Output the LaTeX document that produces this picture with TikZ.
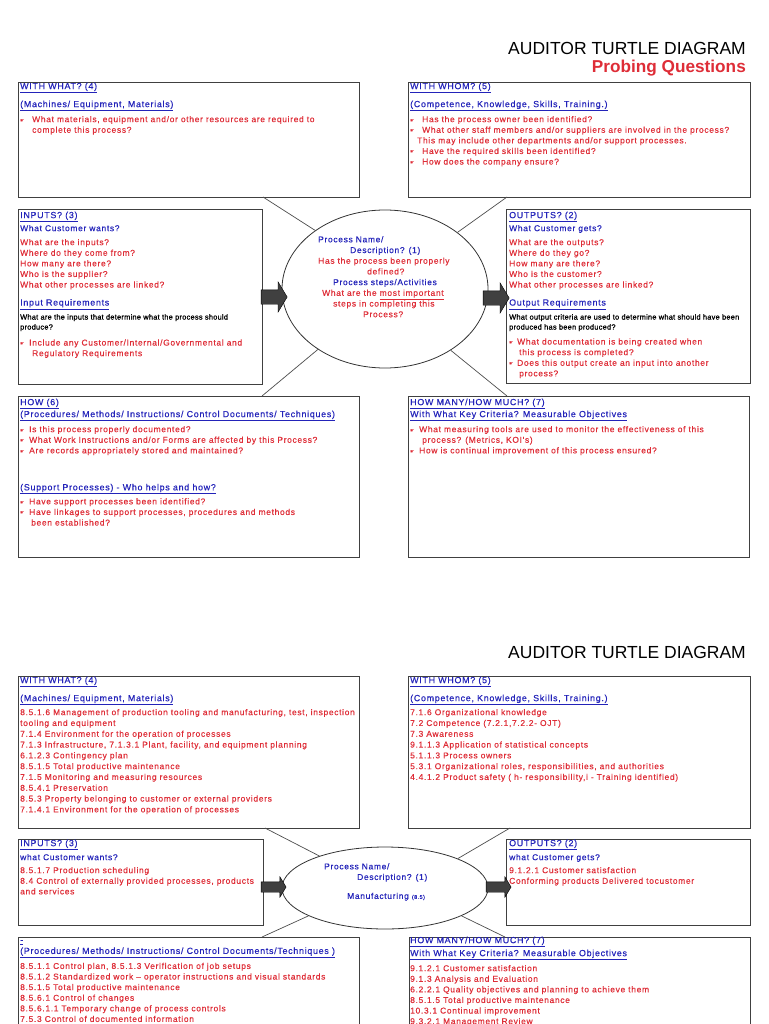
\documentclass[tikz,border=0pt]{standalone}
\usepackage{fontspec}
\setmainfont{Liberation Sans}
\newfontfamily\qfont[LetterSpace=8,FakeBold=0.4]{Liberation Sans}
\newfontfamily\cramp[LetterSpace=3.5,FakeBold=1.2]{Liberation Sans}
\newfontfamily\symfont{DejaVu Sans}
\usetikzlibrary{positioning}
\usetikzlibrary{calc}
\usetikzlibrary{shapes.geometric}
\usetikzlibrary{shapes.arrows}
\definecolor{qblue}{RGB}{35,35,185}
\definecolor{qred}{RGB}{222,45,55}
\newcommand{\hd}[1]{\textcolor{qblue}{\fontsize{8.9}{10.6}\selectfont\underline{#1}}}
\newcommand{\bl}[1][12pt]{\makebox[#1][l]{\symfont\fontsize{5}{5}\selectfont ☛}}
\newcommand{\blk}[1]{\textcolor{black}{\cramp\fontsize{7.4}{9}\selectfont #1}}

\begin{document}
\begin{tikzpicture}[x=1pt,y=-1pt,
    box/.style={draw=black!75,line width=0.9pt,anchor=north west,inner sep=0pt,outer sep=0pt},
    txt/.style={anchor=north west,align=left,inner sep=0pt,text=qred,font=\qfont\fontsize{8.45}{10.6}\selectfont},
    lst/.style={txt,font=\qfont\fontsize{8.45}{10.8}\selectfont},
    leg/.style={draw=black!70,line width=0.7pt},
    proc/.style={ellipse,draw=black!80,line width=0.8pt,inner sep=0pt},
    bigarr/.style={single arrow,draw=black,fill=black!75,inner xsep=0pt,inner ysep=7pt,single arrow head extend=8pt,
                   single arrow tip angle=118,minimum height=26pt},
    smallarr/.style={bigarr,inner ysep=5pt,single arrow head extend=5pt,minimum height=25pt},
    title/.style={anchor=base east,inner sep=0pt,font=\fontsize{17.5}{20}\selectfont}]
    \useasboundingbox (0,0) rectangle (768,1024);
    \clip (0,0) rectangle (768,1024);
    % probing questions
    \node[title]                                  (T1)  at (746,55)  {AUDITOR TURTLE DIAGRAM};
    \node[title,text=qred,font=\bfseries\fontsize{17.2}{20}\selectfont] (T1b) at (746,73) {Probing Questions};
    \node[box,minimum width=341pt,minimum height=115pt] (WW1)  at (18,82)   {};
    \node[box,minimum width=342pt,minimum height=115pt] (WM1)  at (408,82)  {};
    \node[box,minimum width=244pt,minimum height=175pt] (IN1)  at (18,209)  {};
    \node[box,minimum width=244pt,minimum height=174pt] (OUT1) at (506,209) {};
    \node[box,minimum width=341pt,minimum height=161pt] (HOW1) at (18,396)  {};
    \node[box,minimum width=341pt,minimum height=161pt] (HM1)  at (408,396) {};
    \node[proc,minimum width=206pt,minimum height=158pt] (P1) at (385,289) {};
    \node[bigarr] (A1) at (272,297) {};
    \node[bigarr] (A2) at (494,298) {};
    \draw[leg] ([xshift=245pt]WW1.south west)  -- (P1.140);
    \draw[leg] ([xshift=99pt]WM1.south west)   -- (P1.38);
    \draw[leg] ([xshift=244pt]HOW1.north west) -- (P1.222);
    \draw[leg] ([xshift=99pt]HM1.north west)   -- (P1.-43);
    \node[txt] (WW1t) at (20,82.5) {\hd{WITH WHAT? (4)}\\[7.4pt]
        \hd{(Machines/ Equipment, Materials)}\\[4.4pt]
        \bl What materials, equipment and/or other resources are required to\\
        \hspace*{12pt}complete this process?};
    \node[txt] (WM1t) at (410,82.5) {\hd{WITH WHOM? (5)}\\[7.4pt]
        \hd{(Competence, Knowledge, Skills, Training.)}\\[4.4pt]
        \bl Has the process owner been identified?\\
        \bl What other staff members and/or suppliers are involved in the process?\\
        \hspace*{7pt}This may include other departments and/or support processes.\\
        \bl Have the required skills been identified?\\
        \bl How does the company ensure?};
    \node[txt] (IN1t) at (20,211.5) {\hd{INPUTS? (3)}\\[2.4pt]
        \textcolor{qblue}{What Customer wants?}\\[3.4pt]
        What are the inputs?\\
        Where do they come from?\\
        How many are there?\\
        Who is the supplier?\\
        What other processes are linked?\\[7.4pt]
        \hd{Input Requirements}\\[3.4pt]
        \blk{What are the inputs that determine what the process should}\\[-0.6pt]
        \blk{produce?}\\[5.4pt]
        \bl[9pt]Include any Customer/Internal/Governmental and\\
        \hspace*{12pt}Regulatory Requirements};
    \node[txt] (OUT1t) at (509,211.5) {\hd{OUTPUTS? (2)}\\[2.4pt]
        \textcolor{qblue}{What Customer gets?}\\[3.4pt]
        What are the outputs?\\
        Where do they go?\\
        How many are there?\\
        Who is the customer?\\
        What other processes are linked?\\[7.4pt]
        \hd{Output Requirements}\\[3.4pt]
        \blk{What output criteria are used to determine what should have been}\\[-0.6pt]
        \blk{produced has been produced?}\\[4.4pt]
        \bl[8pt]What documentation is being created when\\
        \hspace*{10pt}this process is completed?\\
        \bl[8pt]Does this output create an input into another\\
        \hspace*{10pt}process?};
    \node[txt,font=\qfont\fontsize{8.45}{10.7}\selectfont] (P1t) at (318,236) {\textcolor{qblue}{Process Name/}\\
        \hspace*{32pt}\textcolor{qblue}{Description? (1)}\\
        Has the process been properly\\
        \hspace*{49pt}defined?\\
        \hspace*{15pt}\textcolor{qblue}{Process steps/Activities}\\
        \hspace*{4pt}What are the \underline{most important}\\
        \hspace*{15pt}steps in completing this\\
        \hspace*{45pt}Process?};
    \node[txt] (HOW1t) at (20,398.5) {\hd{HOW (6)}\\[1.4pt]
        \hd{(Procedures/ Methods/ Instructions/ Control Documents/ Techniques)}\\[4.4pt]
        \bl[9pt]Is this process properly documented?\\
        \bl[9pt]What Work Instructions and/or Forms are affected by this Process?\\
        \bl[9pt]Are records appropriately stored and maintained?\\[26.4pt]
        \hd{(Support Processes) - Who helps and how?}\\[3.4pt]
        \bl[9pt]Have support processes been identified?\\
        \bl[9pt]Have linkages to support processes, procedures and methods\\
        \hspace*{11pt}been established?};
    \node[txt] (HM1t) at (410,398.5) {\hd{HOW MANY/HOW MUCH? (7)}\\[1.4pt]
        \hd{With What Key Criteria? Measurable Objectives}\\[4.4pt]
        \bl[9pt]What measuring tools are used to monitor the effectiveness of this\\
        \hspace*{12pt}process? (Metrics, KOI's)\\
        \bl[9pt]How is continual improvement of this process ensured?};
    % manufacturing
    \node[title]                                  (T2)  at (746,658) {AUDITOR TURTLE DIAGRAM};
    \node[box,minimum width=341pt,minimum height=152pt] (WW2)  at (18,676)  {};
    \node[box,minimum width=342pt,minimum height=152pt] (WM2)  at (408,676) {};
    \node[box,minimum width=245pt,minimum height=86pt]  (IN2)  at (18,839)  {};
    \node[box,minimum width=244pt,minimum height=86pt]  (OUT2) at (506,839) {};
    \node[box,minimum width=341pt,minimum height=130pt] (HOW2) at (18,937)  {};
    \node[box,minimum width=341pt,minimum height=130pt] (HM2)  at (409,937) {};
    \node[proc,minimum width=206pt,minimum height=82pt] (P2) at (385,888) {};
    \node[smallarr] (A3) at (272,887) {};
    \node[smallarr] (A4) at (497,887) {};
    \draw[leg] ([xshift=247pt]WW2.south west)  -- (P2.154);
    \draw[leg] ([xshift=102pt]WM2.south west)  -- (P2.22);
    \draw[leg] ([xshift=244pt]HOW2.north west) -- (P2.200);
    \draw[leg] ([xshift=96pt]HM2.north west)   -- (P2.-20);
    \node[lst] (WW2t) at (20,676.5) {\hd{WITH WHAT? (4)}\\[7.2pt]
        \hd{(Machines/ Equipment, Materials)}\\[3.2pt]
        8.5.1.6 Management of production tooling and manufacturing, test, inspection\\
        tooling and equipment\\
        7.1.4 Environment for the operation of processes\\
        7.1.3 Infrastructure, 7.1.3.1 Plant, facility, and equipment planning\\
        6.1.2.3 Contingency plan\\
        8.5.1.5 Total productive maintenance\\
        7.1.5 Monitoring and measuring resources\\
        8.5.4.1 Preservation\\
        8.5.3 Property belonging to customer or external providers\\
        7.1.4.1 Environment for the operation of processes};
    \node[lst] (WM2t) at (410,676.5) {\hd{WITH WHOM? (5)}\\[7.2pt]
        \hd{(Competence, Knowledge, Skills, Training.)}\\[3.2pt]
        7.1.6 Organizational knowledge\\
        7.2 Competence (7.2.1,7.2.2- OJT)\\
        7.3 Awareness\\
        9.1.1.3 Application of statistical concepts\\
        5.1.1.3 Process owners\\
        5.3.1 Organizational roles, responsibilities, and authorities\\
        4.4.1.2 Product safety ( h- responsibility,i - Training identified)};
    \node[txt] (IN2t) at (20,839.5) {\hd{INPUTS? (3)}\\[3.4pt]
        \textcolor{qblue}{what Customer wants?}\\[2.4pt]
        8.5.1.7 Production scheduling\\
        8.4 Control of externally provided processes, products\\
        and services};
    \node[txt] (OUT2t) at (509,839.5) {\hd{OUTPUTS? (2)}\\[3.4pt]
        \textcolor{qblue}{what Customer gets?}\\[2.4pt]
        9.1.2.1 Customer satisfaction\\
        Conforming products Delivered tocustomer};
    \node[txt,text=qblue] (P2t) at (324,863) {Process Name/\\
        \hspace*{33pt}Description? (1)\\[8.4pt]
        \hspace*{23pt}Manufacturing {\fontsize{5.5}{6}\selectfont(8.5)}};
    \node[txt] (HOW2t) at (20,940) {\hd{-}\\[0.4pt]
        \hd{(Procedures/ Methods/ Instructions/ Control Documents/Techniques )}\\[4.4pt]
        8.5.1.1 Control plan, 8.5.1.3 Verification of job setups\\
        8.5.1.2 Standardized work – operator instructions and visual standards\\
        8.5.1.5 Total productive maintenance\\
        8.5.6.1 Control of changes\\
        8.5.6.1.1 Temporary change of process controls\\
        7.5.3 Control of documented information};
    \node[txt] (HM2t) at (410,936.5) {\hd{HOW MANY/HOW MUCH? (7)}\\[2.4pt]
        \hd{With What Key Criteria? Measurable Objectives}\\[4.4pt]
        9.1.2.1 Customer satisfaction\\
        9.1.3 Analysis and Evaluation\\
        6.2.2.1 Quality objectives and planning to achieve them\\
        8.5.1.5 Total productive maintenance\\
        10.3.1 Continual improvement\\
        9.3.2.1 Management Review};
\end{tikzpicture}
\end{document}
